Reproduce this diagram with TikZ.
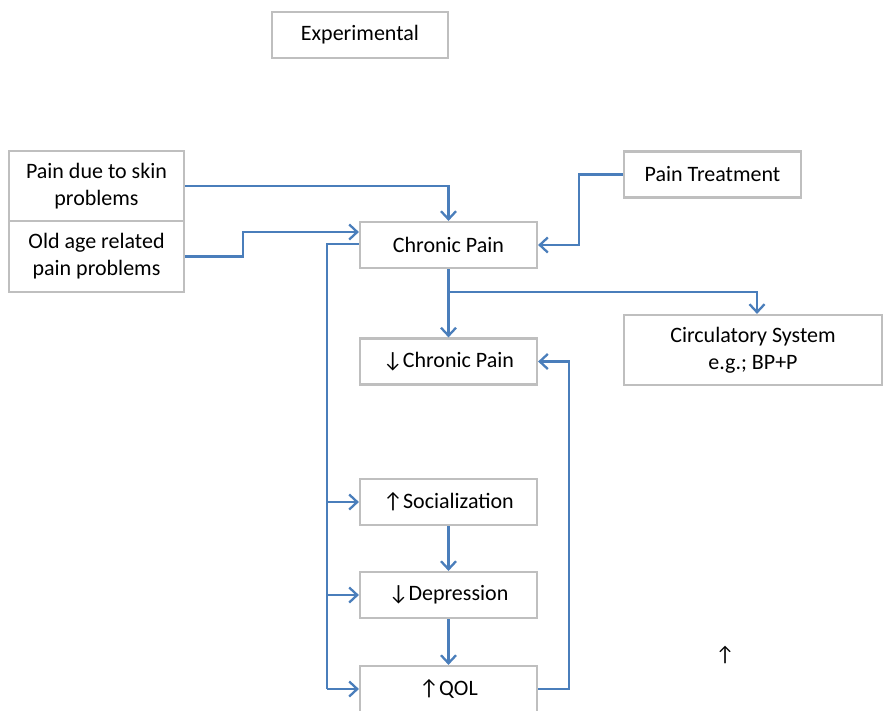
\documentclass[tikz,border=0pt]{standalone}
\usepackage{fontspec}
\setmainfont{Carlito}
\usetikzlibrary{arrows.meta}
\definecolor{linkblue}{HTML}{4A7EBB}
\definecolor{boxgray}{HTML}{BFBFBF}
\begin{document}
\begin{tikzpicture}[x=1pt,y=-1pt,
  box/.style={draw=boxgray,line width=2.2pt,fill=white,inner sep=0pt,align=center,
    font=\fontsize{22}{27}\selectfont,text=black},
  link/.style={draw=linkblue,line width=2.3pt},
  arr/.style={link,-{Straight Barb[length=8pt,width=15pt,line width=2.3pt]}}]
\useasboundingbox (0,0) rectangle (883,710);
\node[box,minimum width=176pt,minimum height=46pt] (exp) at (360,35) {Experimental};
\node[box,minimum width=175pt,minimum height=70pt] (skin) at (96.5,186) {Pain due to skin\\problems};
\node[box,minimum width=175pt,minimum height=71pt] (old) at (96.5,256.5) {Old age related\\pain problems};
\node[box,minimum width=177pt,minimum height=46pt] (chronic) at (448.5,245) {Chronic Pain};
\node[box,minimum width=177pt,minimum height=46pt] (pt) at (712.5,174.5) {Pain Treatment};
\node[box,minimum width=258pt,minimum height=70pt] (circ) at (753,350) {Circulatory System\\e.g.; BP+P};
\node[box,minimum width=177pt,minimum height=46pt] (dchronic) at (448.5,361.5) {↓Chronic Pain};
\node[box,minimum width=177pt,minimum height=46pt] (social) at (448.5,502) {↑Socialization};
\node[box,minimum width=177pt,minimum height=46pt] (depr) at (448.5,595) {↓Depression};
\node[box,minimum width=177pt,minimum height=46pt] (qol) at (448.5,689) {↑QOL};
\node[inner sep=0pt,font=\fontsize{21}{22}\selectfont] (stray) at (725,655) {↑};

\coordinate (lx) at (327,0);
\coordinate (br) at (448.5,292);
\coordinate (rx) at (569,0);

\draw[arr] (skin.east) -| (chronic.north);
\draw[arr] (old.east) -- ++(58,0) |- ([yshift=13pt]chronic.west);
\draw[link] ([yshift=1pt]chronic.west) -| (lx |- qol.west);
\draw[arr] (lx |- qol.west) -- (qol.west);
\draw[arr] (lx |- social.west) -- (social.west);
\draw[arr] (lx |- depr.west) -- (depr.west);
\draw[arr] (pt.west) -- ++(-44,0) |- (chronic.east);
\draw[arr] (chronic.south) -- (dchronic.north);
\draw[arr] (br) -| ([xshift=4pt]circ.north);
\draw[arr] (social.south) -- (depr.north);
\draw[arr] (depr.south) -- (qol.north);
\draw[arr] (qol.east) -- (rx |- qol.east) |- (dchronic.east);
\end{tikzpicture}
\end{document}
